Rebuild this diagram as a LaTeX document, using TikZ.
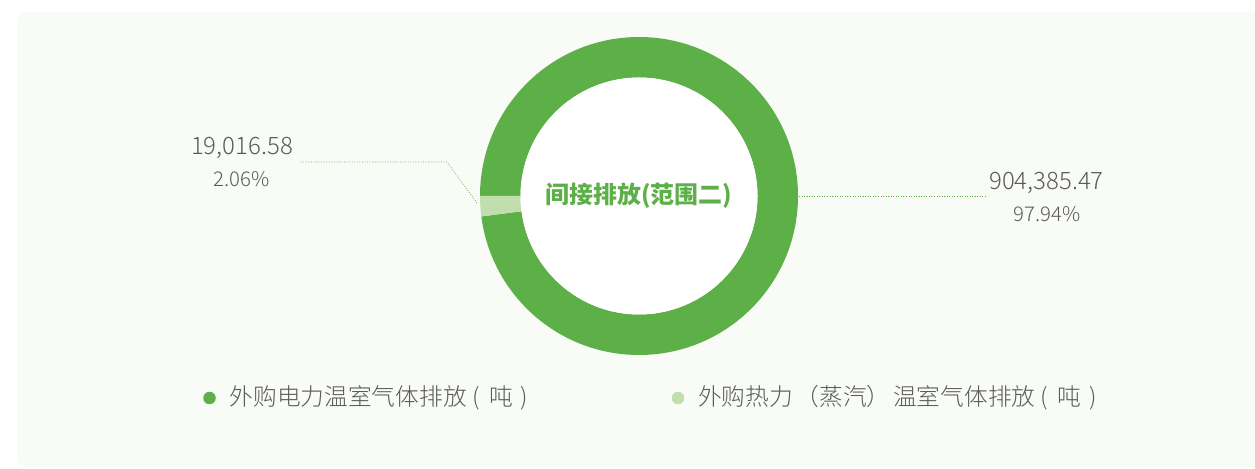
\documentclass[tikz,border=0pt]{standalone}
\usepackage{fontspec}
\usetikzlibrary{positioning}
\newfontfamily\cjk{Noto Sans CJK SC}
\newfontfamily\cjklight{Noto Sans CJK SC Light}
\definecolor{dgreen}{HTML}{5DB047}
\definecolor{lgreen}{HTML}{C2DEAE}
\definecolor{panel}{HTML}{F8FBF6}
\definecolor{txtgray}{HTML}{5A5A5A}
\begin{document}
\begin{tikzpicture}[x=0.02cm,y=-0.02cm]
            \tikzstyle{every node}+=[inner sep=0pt]
            \tikzstyle{num}=[text=txtgray, font=\cjklight\fontsize{13.65}{14}\selectfont]
            \tikzstyle{pct}=[text=txtgray, font=\cjklight\fontsize{11.55}{12}\selectfont]
            \tikzstyle{leader}=[dgreen, densely dotted, line width=0.45pt]
            \tikzstyle{legdot}=[circle, minimum size=0.25cm]
            \tikzstyle{legtxt}=[text=txtgray, font=\cjklight\fontsize{13.5}{14}\selectfont]
                \useasboundingbox (0,0) rectangle (1255,469);
                \fill [white] (0,0) rectangle (1255,469);
                \begin{scope}
                \clip (0,0) rectangle (1255,469);
                \fill [panel, rounded corners=0.2cm] (17,12) rectangle (1275,467);
                \end{scope}
                % ring
                \fill [dgreen, shift={(639,196)}] (180:159) arc[start angle=180, end angle=532.6, radius=159]
                    -- (532.6:118.5) arc[start angle=532.6, end angle=180, radius=118.5] -- cycle;
                \fill [lgreen, shift={(639,196)}] (172.6:159) arc[start angle=172.6, end angle=180, radius=159]
                    -- (180:118.5) arc[start angle=180, end angle=172.6, radius=118.5] -- cycle;
                \fill [white] (639,196) circle[radius=118.5];
                \node (ctr) at (639,196) [text=dgreen, font=\cjk\bfseries\fontsize{13.6}{14}\selectfont] {间接排放(范围二)};
                % labels
                \node (lval) at (242,148) [num] {19,016.58};
                \node (lpct) at (241.5,179) [pct] {2.06\%};
                \node (rval) at (1046.5,183) [num] {904,385.47};
                \node (rpct) at (1047,214) [pct] {97.94\%};
                \coordinate (lseg) at (477,203);
                \coordinate (lbend) at (447,162);
                \coordinate (lend) at (300,162);
                \coordinate (rseg) at (799,196);
                \coordinate (rend) at (985,196);
                \draw [leader] (lseg) -- (lbend) -- (lend);
                \draw [leader] (rseg) -- (rend);
                % legend
                \node (dot1) at (209.5,398) [legdot, fill=dgreen] {};
                \node (leg1) [legtxt, right=7.5pt of dot1] {外购电力温室气体排放 ( \hspace{2.5pt}吨 \hspace{1.5pt})};
                \node (dot2) at (678,398) [legdot, fill=lgreen] {};
                \node (leg2) [legtxt, right=7.5pt of dot2] {外购热力\hspace{1.5pt}（蒸汽）\hspace{1.5pt}温室气体排放 ( \hspace{2.5pt}吨 \hspace{1.5pt})};
            \end{tikzpicture}
\end{document}
